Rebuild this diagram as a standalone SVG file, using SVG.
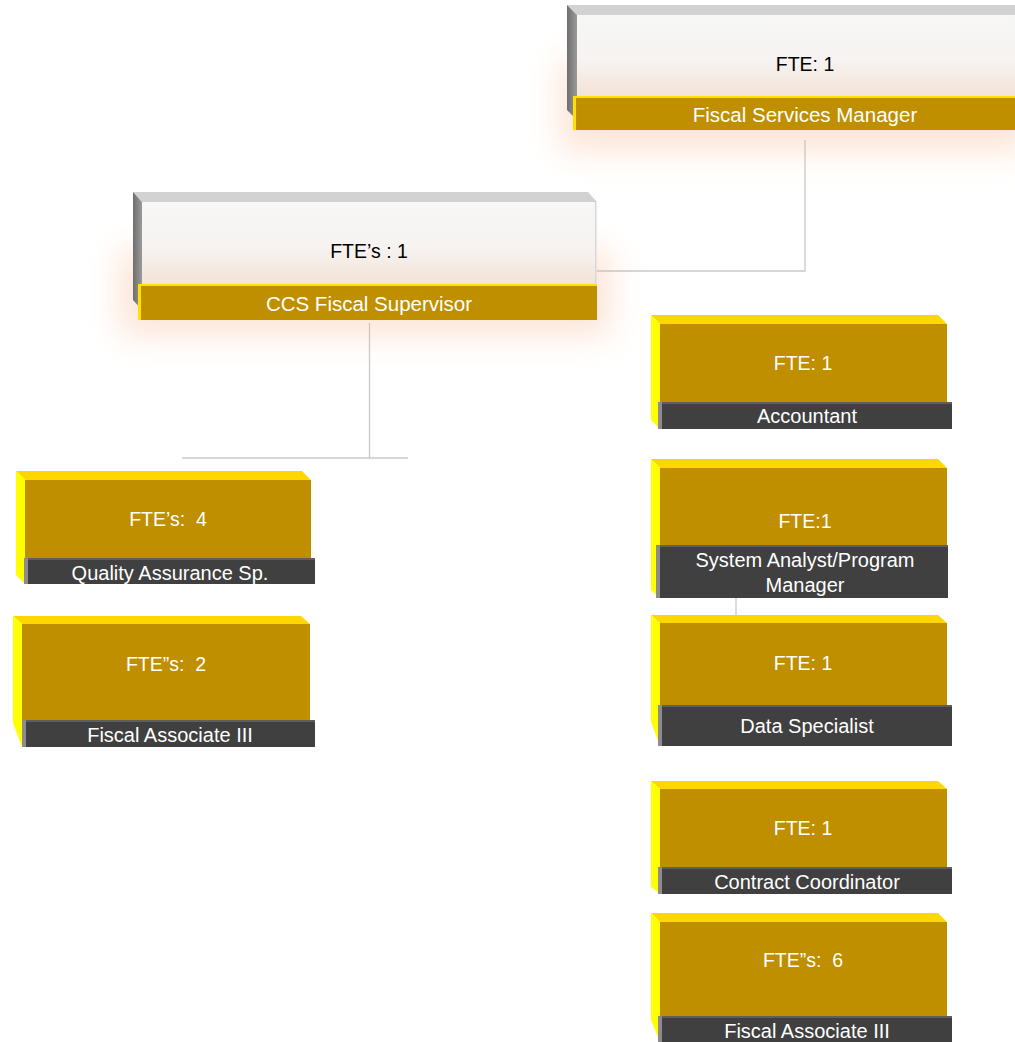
<svg xmlns="http://www.w3.org/2000/svg" width="1015" height="1042" viewBox="0 0 1015 1042">
<defs>
<style>
.top{fill:#FFD700}
.side{fill:#FFFF00}
.face{fill:#BF8F00}
.bar{fill:#404040}
.barl{fill:#8C8C8C}
.bart{fill:#5E5E5E}
.wtop{fill:#D2D2D2}
.wside{fill:url(#gs)}
.wface{fill:url(#gf)}
.tbar{fill:#BF8F00}
.ty{fill:#FFE000}
.glow{fill:#F7B48A;opacity:0.35;filter:url(#blur)}
text{font-family:"Liberation Sans",Arial,sans-serif;text-anchor:middle;white-space:pre}
.fte{font-size:19.5px;fill:#FFFFFF}
.fteb{font-size:19.5px;fill:#000000}
.lbl{font-size:20px;fill:#FFFFFF}
.ttl{font-size:20.5px;fill:#FFFFFF}
.conn{fill:none;stroke:#C8C8C8;stroke-width:1.3}
</style>
<linearGradient id="gf" x1="0" y1="0" x2="0" y2="1">
<stop offset="0" stop-color="#F7F7F7"/>
<stop offset="0.55" stop-color="#F6F3F1"/>
<stop offset="1" stop-color="#F4E2D6"/>
</linearGradient>
<linearGradient id="gs" x1="0" y1="0" x2="1" y2="0">
<stop offset="0" stop-color="#6E6E6E"/>
<stop offset="1" stop-color="#9A9A9A"/>
</linearGradient>
<filter id="blur" x="-20%" y="-50%" width="140%" height="200%">
<feGaussianBlur stdDeviation="16"/>
</filter>
</defs>
<rect width="1015" height="1042" fill="#FFFFFF"/>

<g id="connectors">
<polyline class="conn" points="805,140 805,271 597,271"/>
<line class="conn" x1="369.5" y1="323" x2="369.5" y2="458"/>
<line class="conn" x1="182" y1="458" x2="408" y2="458"/>
<line class="conn" x1="736" y1="598" x2="736" y2="615"/>
</g>

<g id="fiscal-services-manager">
<rect class="glow" x="560" y="60" width="470" height="90"/>
<polygon class="wtop" points="567,5 1020,5 1020,15 577,15"/>
<polygon class="wside" points="567,5 577,15 577,120 567,110"/>
<rect class="wface" x="577" y="15" width="440" height="82"/>
<rect class="ty" x="573" y="96" width="445" height="34"/>
<rect class="tbar" x="576" y="98" width="442" height="32"/>
<text class="fteb" x="805" y="71">FTE: 1</text>
<text class="ttl" x="805" y="122">Fiscal Services Manager</text>
</g>

<g id="ccs-fiscal-supervisor">
<rect class="glow" x="120" y="250" width="490" height="85"/>
<polygon class="wtop" points="133,192 588,192 597,202 142,202"/>
<polygon class="wside" points="133,192 142,202 142,310 133,300"/>
<rect class="wface" x="142" y="202" width="454" height="83"/>
<rect x="595" y="202" width="1.5" height="83" fill="#D8D8D8"/>
<rect class="ty" x="138" y="284" width="459" height="36"/>
<rect class="tbar" x="141" y="286" width="456" height="34"/>
<text class="fteb" x="369" y="258">FTE’s : 1</text>
<text class="ttl" x="369" y="311">CCS Fiscal Supervisor</text>
</g>

<g id="accountant">
<polygon class="top" points="651,315 938,315 947,324 660,324"/>
<polygon class="side" points="651,315 660,324 660,429 651,420"/>
<rect class="face" x="660" y="324" width="287" height="78"/>
<rect class="bar" x="658" y="402" width="294" height="27"/>
<rect class="bart" x="658" y="402" width="294" height="2"/>
<rect class="barl" x="658" y="402" width="4" height="27"/>
<text class="fte" x="803" y="370">FTE: 1</text>
<text class="lbl" x="807" y="423">Accountant</text>
</g>

<g id="system-analyst">
<polygon class="top" points="651,459 938,459 947,468 660,468"/>
<polygon class="side" points="651,459 660,468 660,598 651,590"/>
<rect class="face" x="660" y="468" width="287" height="77"/>
<rect class="bar" x="656" y="545" width="292" height="53"/>
<rect class="bart" x="656" y="545" width="292" height="2"/>
<rect class="barl" x="656" y="545" width="4" height="53"/>
<text class="fte" x="805" y="528">FTE:1</text>
<text class="lbl" x="805" y="567">System Analyst/Program</text>
<text class="lbl" x="805" y="592">Manager</text>
</g>

<g id="data-specialist">
<polygon class="top" points="651,615 938,615 947,623 660,623"/>
<polygon class="side" points="651,615 660,623 660,746 651,722"/>
<rect class="face" x="660" y="623" width="287" height="82"/>
<rect class="bar" x="658" y="705" width="294" height="41"/>
<rect class="bart" x="658" y="705" width="294" height="2"/>
<rect class="barl" x="658" y="705" width="4" height="41"/>
<text class="fte" x="803" y="670">FTE: 1</text>
<text class="lbl" x="807" y="733">Data Specialist</text>
</g>

<g id="contract-coordinator">
<polygon class="top" points="651,781 938,781 947,789 660,789"/>
<polygon class="side" points="651,781 660,789 660,894 651,887"/>
<rect class="face" x="660" y="789" width="287" height="78"/>
<rect class="bar" x="658" y="867" width="294" height="27"/>
<rect class="bart" x="658" y="867" width="294" height="2"/>
<rect class="barl" x="658" y="867" width="4" height="27"/>
<text class="fte" x="803" y="835">FTE: 1</text>
<text class="lbl" x="807" y="889">Contract Coordinator</text>
</g>

<g id="fiscal-associate-right">
<polygon class="top" points="651,913 938,913 947,922 660,922"/>
<polygon class="side" points="651,913 660,922 660,1042 651,1020"/>
<rect class="face" x="660" y="922" width="287" height="94"/>
<rect class="bar" x="658" y="1016" width="294" height="30"/>
<rect class="bart" x="658" y="1016" width="294" height="2"/>
<rect class="barl" x="658" y="1016" width="4" height="30"/>
<text class="fte" x="803" y="967">FTE”s:  6</text>
<text class="lbl" x="807" y="1038">Fiscal Associate III</text>
</g>

<g id="quality-assurance">
<polygon class="top" points="16,471 302,471 311,480 25,480"/>
<polygon class="side" points="16,471 25,480 25,584 16,575"/>
<rect class="face" x="25" y="480" width="286" height="78"/>
<rect class="bar" x="24" y="558" width="291" height="26"/>
<rect class="bart" x="24" y="558" width="291" height="2"/>
<rect class="barl" x="24" y="558" width="4" height="26"/>
<text class="fte" x="168" y="526">FTE’s:  4</text>
<text class="lbl" x="170" y="580">Quality Assurance Sp.</text>
</g>

<g id="fiscal-associate-left">
<polygon class="top" points="13,616 301,616 310,624 22,624"/>
<polygon class="side" points="13,616 22,624 22,747 13,723"/>
<rect class="face" x="22" y="624" width="288" height="96"/>
<rect class="bar" x="22" y="720" width="293" height="27"/>
<rect class="bart" x="22" y="720" width="293" height="2"/>
<rect class="barl" x="22" y="720" width="4" height="27"/>
<text class="fte" x="166" y="671">FTE”s:  2</text>
<text class="lbl" x="170" y="742">Fiscal Associate III</text>
</g>
</svg>
